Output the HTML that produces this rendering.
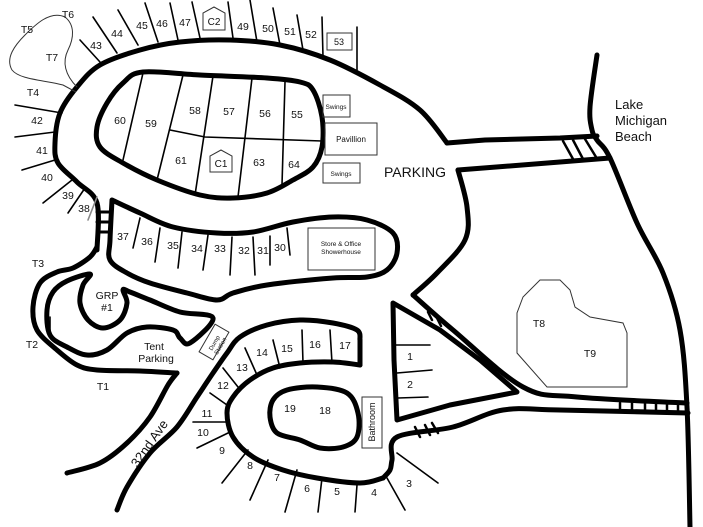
<!DOCTYPE html>
<html><head><meta charset="utf-8"><style>
html,body{margin:0;padding:0;background:#fff;}
svg{display:block;}
text{font-family:"Liberation Sans",Arial,sans-serif;fill:#111;}
</style></head><body>
<svg id="m" width="703" height="527" viewBox="0 0 703 527" xmlns="http://www.w3.org/2000/svg">
<g fill="none" stroke="#000" stroke-width="5" stroke-linejoin="round" stroke-linecap="round">
<polyline class="s" points="97,250 97,203 77,182 58,163 55,143 60,113 77,87 100,65 140,50 180,42 230,40 280,45 330,60 380,85 420,110 447,143"/>
<polyline points="447,143 485,140 560,138 597,136"/>
<polyline class="s" points="112,200 110,240 110,260 127,273 150,283 187,293 217,300 233,293 267,285 333,278 367,277 387,270 397,253 393,233 367,220 333,217 293,222 253,232 217,233 173,227 140,213 112,200"/>
<polygon class="s" points="143,72 200,75 267,78 300,82 313,90 322,117 322,147 313,167 293,180 267,193 233,198 200,195 157,180 123,163 100,147 97,127 107,103 123,83"/>
<polyline points="610,158 560,162 458,170"/>
<polyline class="s" points="458,170 467,207 465,240 437,273 413,295"/>
<polyline class="s" points="413,295 453,330 523,387 577,397 687,403"/>
<polyline class="s" points="597,55 590,107 592,130 597,140 610,158 637,223 663,273 680,330 687,407 690,527"/>
<polyline class="s" points="688,413 560,410 503,410 453,427 397,437 392,460 390,470 383,478"/>
<polygon points="393,303 440,330 480,360 517,392 450,405 397,420 394,360"/>
<polyline class="s" points="383,478 360,483 317,478 283,470 253,457 233,437 227,413 233,397 250,380 273,368 300,363 333,362 360,365"/>
<polyline points="360,365 360,340"/>
<polyline class="s" points="360,340 357,330 333,323 300,320 267,325 240,337 227,353 213,373 197,397 177,427 150,453 127,487 117,510"/>
<polygon class="s" points="273,400 287,390 317,387 347,393 358,413 357,437 343,447 320,448 300,440 277,433 270,417"/>
<polyline class="s" points="67,473 100,463 127,443 150,417 168,385 177,373"/>
<polyline class="s" points="177,373 140,371 97,370 77,365 57,350 37,330 33,307 40,283 57,272 73,268 90,257 97,247"/>
<polygon class="s" points="50,335 47,310 53,292 67,281 90,274 83,285 80,303 88,320 103,328 120,320 127,303 123,290 130,292 150,300 180,312 213,318 190,343 180,338 173,330 147,327 127,333 107,350 87,355 67,347"/>
</g>
<g fill="none" stroke="#000" stroke-width="1.6" stroke-linecap="round">
<line x1="80" y1="40" x2="100" y2="62"/><line x1="93" y1="17" x2="117" y2="53"/><line x1="118" y1="10" x2="138" y2="45"/>
<line x1="145" y1="3" x2="158" y2="42"/><line x1="170" y1="3" x2="178" y2="40"/><line x1="192" y1="2" x2="200" y2="38"/>
<line x1="228" y1="2" x2="233" y2="38"/><line x1="250" y1="0" x2="257" y2="42"/><line x1="273" y1="8" x2="280" y2="45"/>
<line x1="297" y1="15" x2="303" y2="50"/><line x1="322" y1="17" x2="323" y2="57"/><line x1="357" y1="27" x2="357" y2="70"/>
<line x1="15" y1="105" x2="62" y2="113"/><line x1="15" y1="137" x2="55" y2="132"/><line x1="22" y1="170" x2="55" y2="160"/>
<line x1="43" y1="203" x2="72" y2="180"/><line x1="68" y1="213" x2="85" y2="188"/><line x1="88" y1="220" x2="97" y2="197" stroke="#888"/>
<line x1="133" y1="248" x2="140" y2="218"/><line x1="155" y1="262" x2="160" y2="228"/><line x1="178" y1="268" x2="182" y2="232"/>
<line x1="203" y1="270" x2="208" y2="235"/><line x1="230" y1="275" x2="232" y2="237"/><line x1="255" y1="275" x2="253" y2="237"/>
<line x1="270" y1="265" x2="270" y2="236"/><line x1="290" y1="255" x2="287" y2="228"/>
<line x1="123" y1="160" x2="143" y2="73"/><line x1="157" y1="180" x2="183" y2="75"/><line x1="195" y1="195" x2="213" y2="76"/>
<line x1="238" y1="197" x2="252" y2="78"/><line x1="282" y1="185" x2="285" y2="82"/>
<polyline points="170,130 205,137 322,141"/>
<line x1="245" y1="348" x2="257" y2="375"/><line x1="273" y1="340" x2="280" y2="368"/><line x1="302" y1="330" x2="303" y2="363"/><line x1="330" y1="330" x2="332" y2="363"/>
<line x1="223" y1="368" x2="238" y2="387"/><line x1="210" y1="393" x2="227" y2="405"/><line x1="193" y1="422" x2="228" y2="422"/>
<line x1="197" y1="448" x2="228" y2="433"/><line x1="222" y1="483" x2="248" y2="450"/><line x1="250" y1="500" x2="268" y2="460"/>
<line x1="285" y1="512" x2="297" y2="470"/><line x1="318" y1="512" x2="322" y2="478"/><line x1="355" y1="512" x2="357" y2="485"/>
<line x1="405" y1="510" x2="387" y2="478"/><line x1="438" y1="483" x2="397" y2="453"/>
<line x1="393" y1="345" x2="430" y2="345"/><line x1="397" y1="373" x2="432" y2="370"/><line x1="398" y1="398" x2="428" y2="397"/>
<line x1="50" y1="317" x2="50" y2="333"/>
<line x1="97" y1="212" x2="112" y2="212" stroke-width="3"/><line x1="97" y1="222" x2="111" y2="222" stroke-width="3"/><line x1="97" y1="232" x2="111" y2="232" stroke-width="3"/>
<line x1="563" y1="141" x2="573" y2="159" stroke-width="2.5"/><line x1="573" y1="140" x2="583" y2="159" stroke-width="2.5"/><line x1="585" y1="139" x2="596" y2="157" stroke-width="2.5"/>
<line x1="620" y1="403" x2="620" y2="411" stroke-width="2.5"/><line x1="632" y1="403" x2="632" y2="411" stroke-width="2.5"/><line x1="645" y1="403" x2="645" y2="411" stroke-width="2.5"/><line x1="656" y1="404" x2="656" y2="412" stroke-width="2.5"/><line x1="667" y1="404" x2="667" y2="412" stroke-width="2.5"/><line x1="678" y1="404" x2="678" y2="412" stroke-width="2.5"/>
<line x1="428" y1="312" x2="432" y2="320" stroke-width="2.5"/><line x1="437" y1="318" x2="441" y2="326" stroke-width="2.5"/>
<line x1="415" y1="427" x2="420" y2="437" stroke-width="2.5"/><line x1="425" y1="425" x2="430" y2="435" stroke-width="2.5"/><line x1="432" y1="423" x2="438" y2="433" stroke-width="2.5"/>
</g>
<g fill="none" stroke="#333" stroke-width="1">
<path d="M77,87 C65,75 62,62 68,50 C74,38 75,25 65,17 C50,10 35,25 25,35 C15,45 5,58 12,70 C20,80 45,80 63,85 L76,92"/>
<polygon points="540,280 560,280 570,290 575,307 590,317 623,323 627,333 627,387 547,387 517,353 517,313 523,297"/>
<rect x="327" y="33" width="25" height="17"/><rect x="323" y="95" width="27" height="22"/><rect x="325" y="123" width="52" height="32"/>
<rect x="323" y="163" width="37" height="20"/><rect x="308" y="228" width="67" height="42"/><rect x="362" y="397" width="20" height="51"/>
<polygon points="203,30 203,13 214,7 225,13 225,30"/><polygon points="210,172 210,156 221,150 232,156 232,172"/>
<rect x="-16" y="-8" width="32" height="16" transform="translate(214,342) rotate(-60)"/>
</g>
<g font-size="10.5" text-anchor="middle">
<text x="68" y="18">T6</text><text x="27" y="33">T5</text><text x="52" y="61">T7</text><text x="96" y="49">43</text>
<text x="117" y="37">44</text><text x="142" y="29">45</text><text x="162" y="27">46</text><text x="185" y="26">47</text>
<text x="214" y="25" font-size="10">C2</text>
<text x="243" y="30">49</text><text x="268" y="32">50</text><text x="290" y="35">51</text><text x="311" y="38">52</text><text x="339" y="45" font-size="9">53</text>
<text x="33" y="96">T4</text><text x="37" y="124">42</text><text x="42" y="154">41</text><text x="47" y="181">40</text><text x="68" y="199">39</text><text x="84" y="212">38</text>
<text x="38" y="267">T3</text><text x="123" y="240">37</text><text x="147" y="245">36</text><text x="173" y="249">35</text><text x="197" y="252">34</text>
<text x="220" y="252">33</text><text x="244" y="254">32</text><text x="263" y="254">31</text><text x="280" y="251">30</text>
<text x="107" y="299">GRP</text><text x="107" y="311">#1</text><text x="32" y="348">T2</text><text x="154" y="350">Tent</text><text x="156" y="362">Parking</text>
<text x="103" y="390">T1</text>
<text x="207" y="417">11</text><text x="203" y="436">10</text><text x="222" y="454">9</text><text x="250" y="469">8</text><text x="277" y="481">7</text>
<text x="307" y="492">6</text><text x="337" y="495">5</text><text x="374" y="496">4</text><text x="409" y="487">3</text>
<text x="223" y="389">12</text><text x="242" y="371">13</text><text x="262" y="356">14</text><text x="287" y="352">15</text><text x="315" y="348">16</text><text x="345" y="349">17</text>
<text x="290" y="412">19</text><text x="325" y="414">18</text><text x="410" y="360">1</text><text x="410" y="388">2</text>
<text x="539" y="327">T8</text><text x="590" y="357">T9</text>
<text x="120" y="124">60</text><text x="151" y="127">59</text><text x="195" y="114">58</text><text x="229" y="115">57</text><text x="265" y="117">56</text><text x="297" y="118">55</text>
<text x="181" y="164">61</text><text x="221" y="167" font-size="10">C1</text><text x="259" y="166">63</text><text x="294" y="168">64</text>
<text x="415" y="177" font-size="14">PARKING</text>
<text x="336" y="109" font-size="6.5">Swings</text><text x="351" y="142" font-size="8">Pavillion</text><text x="341" y="176" font-size="6.5">Swings</text>
<text x="341" y="246" font-size="6.5">Store &amp; Office</text><text x="341" y="254" font-size="6.5">Showerhouse</text>
<text transform="translate(375,422) rotate(-90)" font-size="9">Bathroom</text>
<text transform="translate(216,344) rotate(-60)" font-size="6">Dump</text><text transform="translate(222,347) rotate(-60)" font-size="6">Station</text>
<text transform="translate(153,446) rotate(-55)" font-size="13">32nd Ave</text>
</g>
<g font-size="13" text-anchor="start">
<text x="615" y="109">Lake</text><text x="615" y="125">Michigan</text><text x="615" y="141">Beach</text>
</g>
</svg>
<script>
(function(){
var ns="http://www.w3.org/2000/svg";
var els=document.querySelectorAll('#m .s');
for(var i=0;i<els.length;i++){
 var e=els[i];var closed=e.tagName.toLowerCase()=='polygon';
 var nums=e.getAttribute('points').trim().split(/[\s,]+/).map(Number);
 var p=[];for(var j=0;j<nums.length;j+=2)p.push([nums[j],nums[j+1]]);
 var n=p.length;if(n<3)continue;
 function g(k){if(closed)return p[(k+n)%n];return p[Math.max(0,Math.min(n-1,k))];}
 var d="M"+p[0][0]+","+p[0][1];var segs=closed?n:n-1;
 for(var k=0;k<segs;k++){
  var p0=g(k-1),p1=g(k),p2=g(k+1),p3=g(k+2);
  var c1=[p1[0]+(p2[0]-p0[0])/6,p1[1]+(p2[1]-p0[1])/6];
  var c2=[p2[0]-(p3[0]-p1[0])/6,p2[1]-(p3[1]-p1[1])/6];
  d+=" C"+c1[0].toFixed(1)+","+c1[1].toFixed(1)+" "+c2[0].toFixed(1)+","+c2[1].toFixed(1)+" "+p2[0]+","+p2[1];
 }
 if(closed)d+="Z";
 var path=document.createElementNS(ns,'path');path.setAttribute('d',d);
 e.parentNode.replaceChild(path,e);
}
})();
</script>
</body></html>
